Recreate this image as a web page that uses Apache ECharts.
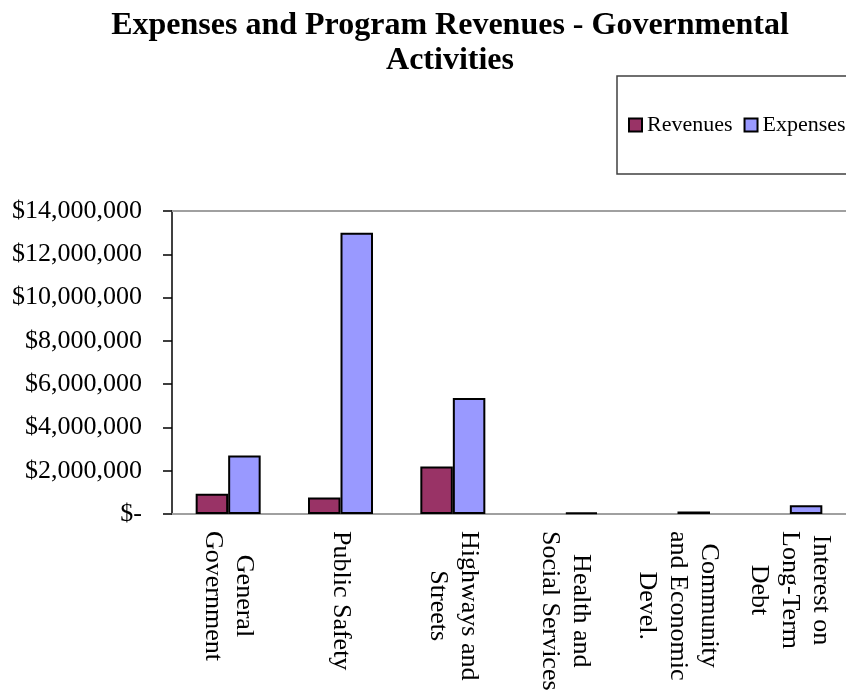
<!DOCTYPE html>
<html>
<head>
<meta charset="utf-8">
<script src="https://cdn.jsdelivr.net/npm/echarts@6/dist/echarts.min.js"></script>
<style>
  html, body { margin: 0; padding: 0; background: #ffffff; }
  #chart { width: 846px; height: 696px; }
</style>
</head>
<body>
<div id="chart"></div>
<script>
const categories = [
  'General\nGovernment',
  'Public Safety',
  'Highways and\nStreets',
  'Health and\nSocial Services',
  'Community\nand Economic\nDevel.',
  'Interest on\nLong-Term\nDebt'
];
const seriesNames = ['Revenues', 'Expenses'];
const revenues = [930000, 760000, 2190000, null, null, null];
const expenses = [2700000, 12990000, 5360000, 60000, 110000, 400000];
const yTicks = { min: 0, max: 14000000, interval: 2000000 };
const titleText = 'Expenses and Program Revenues - Governmental\nActivities';

const FONT = 'Liberation Serif';

function fmtMoney(v) {
  if (v === 0) return '$-';
  return '$' + v.toLocaleString('en-US');
}

const chart = echarts.init(document.getElementById('chart'), null, { renderer: 'canvas' });

const option = {
  backgroundColor: '#ffffff',
  animation: false,
  title: {
    text: titleText,
    left: 445,
    top: 3,
    textAlign: 'center',
    textStyle: {
      fontFamily: FONT,
      fontSize: 32,
      fontWeight: 'bold',
      lineHeight: 35,
      color: '#000000'
    }
  },
  legend: {
    data: seriesNames,
    left: 617,
    top: 76,
    width: 300,
    orient: 'horizontal',
    padding: [38, 20, 38, 11],
    borderColor: '#404040',
    borderWidth: 1.5,
    borderRadius: 0,
    itemWidth: 13,
    itemHeight: 13,
    itemGap: 11,
    icon: 'rect',
    textStyle: {
      fontFamily: FONT,
      fontSize: 22,
      lineHeight: 22,
      color: '#000000'
    }
  },
  grid: {
    left: 172,
    right: 0,
    top: 211,
    bottom: 182,
    containLabel: false
  },
  xAxis: [
    {
      type: 'category',
      data: categories,
      position: 'bottom',
      axisLine: { show: true, lineStyle: { color: '#a0a0a0', width: 2 } },
      axisTick: { show: false },
      splitLine: { show: false },
      axisLabel: {
        interval: 0,
        rotate: -90,
        margin: 17,
        fontFamily: FONT,
        fontSize: 26,
        lineHeight: 31,
        color: '#000000',
        formatter: function (v) {
          return v.split('\n').map(function (s) { return '{c|' + s + '}'; }).join('\n');
        },
        rich: {
          c: {
            align: 'center',
            fontFamily: FONT,
            fontSize: 26,
            lineHeight: 31,
            color: '#000000'
          }
        }
      }
    },
    {
      type: 'category',
      data: categories,
      position: 'top',
      axisLine: { show: true, lineStyle: { color: '#a0a0a0', width: 2 } },
      axisTick: { show: false },
      axisLabel: { show: false },
      splitLine: { show: false }
    }
  ],
  yAxis: {
    type: 'value',
    min: yTicks.min,
    max: yTicks.max,
    interval: yTicks.interval,
    axisLine: { show: true, lineStyle: { color: '#000000', width: 1.5 } },
    axisTick: { show: true, inside: false, length: 9, lineStyle: { color: '#000000', width: 1.5 } },
    splitLine: { show: false },
    axisLabel: {
      margin: 30,
      fontFamily: FONT,
      fontSize: 26,
      color: '#000000',
      formatter: fmtMoney
    }
  },
  series: [
    {
      name: seriesNames[0],
      type: 'bar',
      xAxisIndex: 0,
      data: revenues,
      barWidth: 32.5,
      barGap: '0%',
      itemStyle: { color: '#993366', borderColor: '#000000', borderWidth: 2 }
    },
    {
      name: seriesNames[1],
      type: 'bar',
      xAxisIndex: 0,
      data: expenses,
      barWidth: 32.5,
      barGap: '0%',
      itemStyle: { color: '#9999FF', borderColor: '#000000', borderWidth: 2 }
    }
  ]
};

chart.setOption(option);
</script>
</body>
</html>
